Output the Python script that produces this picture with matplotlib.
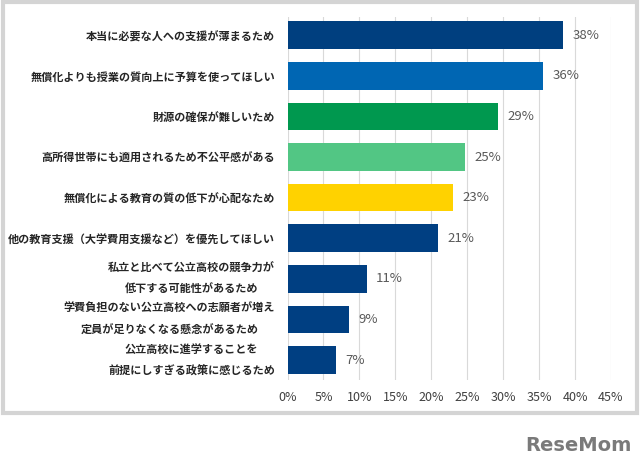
import matplotlib
matplotlib.use('Agg')
import matplotlib.pyplot as plt
from matplotlib.patches import Rectangle

plt.rcParams['font.family'] = ['Noto Sans CJK JP', 'DejaVu Sans']

# 回答割合（%）
reasons = [
    '本当に必要な人への支援が薄まるため',
    '無償化よりも授業の質向上に予算を使ってほしい',
    '財源の確保が難しいため',
    '高所得世帯にも適用されるため不公平感がある',
    '無償化による教育の質の低下が心配なため',
    '他の教育支援（大学費用支援など）を優先してほしい',
    '私立と比べて公立高校の競争力が\n低下する可能性があるため',
    '学費負担のない公立高校への志願者が増え\n定員が足りなくなる懸念があるため',
    '公立高校に進学することを\n前提にしすぎる政策に感じるため',
]
shares = [38.3, 35.6, 29.3, 24.7, 23.0, 20.9, 11.0, 8.6, 6.7]
bar_colors = ['#003f7f', '#0066b3', '#00984f', '#52c684', '#ffd200',
              '#003f82', '#003f82', '#003f82', '#003f82']
xticks = [0, 5, 10, 15, 20, 25, 30, 35, 40, 45]

fig = plt.figure(figsize=(6.4, 4.69), dpi=100)
fig.patches.append(Rectangle((0.005, 1 - 413 / 469), 0.99, 413 / 469 - 0.005,
                             transform=fig.transFigure, fill=False,
                             edgecolor='#d4d4d4', linewidth=3))

ax = fig.add_axes([287.5 / 640, 1 - 380 / 469, 323.5 / 640, 363 / 469])
pos = list(range(len(reasons)))
bars = ax.barh(pos, shares, height=0.68, color=bar_colors, zorder=3)

for b, v in zip(bars, shares):
    ax.text(b.get_width() + 1.3, b.get_y() + b.get_height() / 2, f'{v:.0f}%',
            va='center', ha='left', fontsize=9.5, color='#595959')

ax.set_xlim(0, 45)
ax.set_ylim(8.49, -0.45)
ax.set_xticks(xticks)
ax.set_xticklabels([f'{t}%' for t in xticks], fontsize=9, color='#404040')
ax.set_yticks(pos)
ax.set_yticklabels(reasons, fontsize=8, color='#262626', fontweight='bold',
                   linespacing=1.85, multialignment='center')
# 2行ラベルはバーの中央に揃える
for lab in ax.get_yticklabels():
    if '\n' in lab.get_text():
        lab.set_va('center')
ax.tick_params(axis='both', length=0)
ax.tick_params(axis='y', pad=9)
ax.tick_params(axis='x', pad=8)
ax.grid(axis='x', color='#d9d9d9', linewidth=0.8, zorder=0)
for s in ax.spines.values():
    s.set_visible(False)

fig.text(578 / 640, 1 - 445 / 469, 'ReseMom', ha='center', va='center',
         fontsize=14, fontweight='bold', color='#7a7a7a', family='DejaVu Sans')

fig.savefig('out.png', dpi=100, facecolor='white')
